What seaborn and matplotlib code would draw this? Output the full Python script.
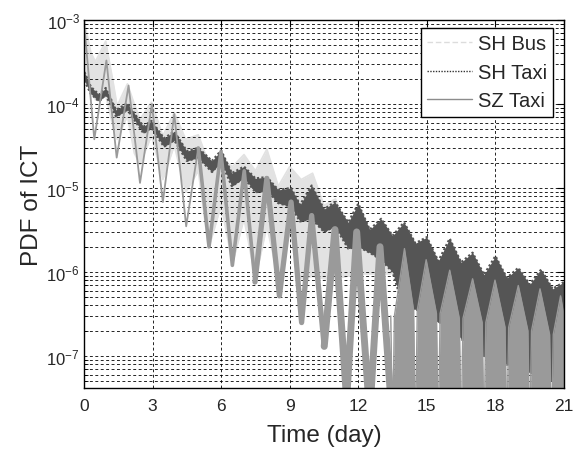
import numpy as np
import pandas as pd
import matplotlib
matplotlib.use("Agg")
import matplotlib.pyplot as plt
import seaborn as sns
from matplotlib.lines import Line2D
from matplotlib.ticker import LogLocator, NullFormatter, FixedLocator

# ---------------- data ----------------
# SZ Taxi : daily peaks / troughs (zig-zag part, days 0 - 13.5)
sz_t = [0.0, 0.45, 0.98, 1.43, 1.95, 2.45, 2.97, 3.45, 3.95, 4.47, 5.0, 5.47,
        5.99, 6.49, 7.01, 7.48, 8.0, 8.55, 9.06, 9.52, 9.96, 10.51, 10.98,
        11.49, 11.93, 12.5, 12.95, 13.5]
sz_v = [9.5e-4, 3.8e-5, 3.3e-4, 2.3e-5, 1.66e-4, 1.15e-5, 1.0e-4, 6.8e-6,
        7.6e-5, 3.5e-6, 3.0e-5, 2.0e-6, 2.7e-5, 1.2e-6, 1.6e-5, 7.6e-7,
        1.3e-5, 5.2e-7, 6.8e-6, 2.5e-7, 4.7e-6, 1.3e-7, 3.2e-6, 3.0e-8,
        3.0e-6, 2.0e-8, 2.0e-6, 1.5e-8]
# SZ Taxi : late, very noisy part (days 13.4 - 21) - daily peaks and the
# narrow empty slits between them
sz_late_t = [13.42, 13.5, 13.58, 14.02, 14.42, 14.5, 14.58, 14.97, 15.42, 15.5,
             15.58, 16.0, 16.42, 16.5, 16.58, 17.0, 17.42, 17.5, 17.58, 17.98,
             18.42, 18.5, 18.58, 19.0, 19.42, 19.5, 19.58, 19.95, 20.37, 20.45,
             20.53, 20.85, 21.0]
sz_late_v = [3.0e-7, 1.0e-8, 3.0e-7, 1.9e-6, 3.5e-7, 1.0e-8, 3.5e-7, 1.4e-6,
             3.2e-7, 1.0e-8, 3.2e-7, 1.05e-6, 2.8e-7, 1.0e-8, 2.8e-7, 8.3e-7,
             2.5e-7, 1.0e-8, 2.5e-7, 8.0e-7, 2.2e-7, 1.0e-8, 2.2e-7, 6.9e-7,
             2.0e-7, 1.0e-8, 2.0e-7, 6.3e-7, 1.8e-7, 1.0e-8, 1.8e-7, 5.2e-7,
             3.0e-7]
sz_floor = 1.0e-9

# SH Taxi : upper / lower edge of the dark noisy band
sht_t = [0.02, 0.3, 0.66, 0.95, 1.4, 1.9, 2.6, 2.95, 3.5, 3.95, 4.5, 5.0, 5.6,
         6.0, 6.47, 7.0, 7.5, 8.0, 8.5, 9.06, 9.45, 9.96, 10.5, 10.98, 11.56,
         12.0, 12.5, 13.0, 13.5, 14.0, 14.5, 15.0, 15.5, 16.0, 16.5, 17.0,
         17.5, 18.0, 18.5, 19.0, 19.5, 20.0, 20.5, 21.0]
sht_hi = [2.4e-4, 1.6e-4, 1.29e-4, 1.55e-4, 8.5e-5, 1.02e-4, 5.4e-5, 6.3e-5,
          3.9e-5, 4.7e-5, 2.75e-5, 3.0e-5, 2.1e-5, 2.8e-5, 1.5e-5, 1.8e-5,
          1.3e-5, 1.35e-5, 9.5e-6, 1.0e-5, 6.3e-6, 1.07e-5, 5.6e-6, 6.8e-6,
          3.9e-6, 6.5e-6, 3.2e-6, 4.3e-6, 2.7e-6, 3.9e-6, 2.2e-6, 2.6e-6,
          1.35e-6, 2.5e-6, 1.3e-6, 1.7e-6, 9.3e-7, 1.55e-6, 8.5e-7, 1.12e-6,
          7.1e-7, 1.07e-6, 6.3e-7, 7.6e-7]
sht_lo = [1.9e-4, 1.32e-4, 1.07e-4, 1.29e-4, 7.1e-5, 8.5e-5, 4.5e-5, 5.2e-5,
          3.1e-5, 3.7e-5, 2.1e-5, 2.3e-5, 1.55e-5, 2.05e-5, 1.05e-5, 1.32e-5,
          8.9e-6, 9.3e-6, 6.6e-6, 6.0e-6, 4.0e-6, 4.3e-6, 3.0e-6, 3.5e-6,
          1.9e-6, 2.0e-6, 1.7e-6, 1.4e-6, 1.0e-6, 3.6e-7, 3.6e-7, 3.2e-7,
          2.5e-7, 2.5e-7, 1.6e-7, 1.26e-7, 1.0e-7, 1.0e-7, 7.9e-8, 7.9e-8,
          6.3e-8, 6.3e-8, 5.0e-8, 5.0e-8]

# SH Bus : upper / lower edge of the light noisy band
shb_t = [0.0, 0.3, 0.5, 0.95, 1.3, 1.45, 1.9, 2.2, 2.45, 2.95, 3.45, 3.95,
         4.45, 5.0, 5.45, 6.0, 6.5, 7.0, 7.5, 8.0, 8.5, 9.0, 9.5, 10.0, 10.5,
         11.0, 11.5, 12.0, 12.5, 13.0, 13.4, 13.6]
shb_hi = [1.0e-3, 4.1e-4, 3.2e-4, 5.6e-4, 1.66e-4, 9.5e-5, 1.74e-4, 1.0e-4,
          6.6e-5, 1.05e-4, 4.2e-5, 7.9e-5, 3.8e-5, 4.3e-5, 2.0e-5, 2.2e-5,
          1.8e-5, 2.5e-5, 1.6e-5, 2.9e-5, 1.05e-5, 1.8e-5, 1.26e-5, 1.5e-5,
          6.2e-6, 7.4e-6, 3.5e-6, 5.1e-6, 3.0e-6, 3.5e-6, 2.5e-6, 1.5e-6]
shb_lo = [2.2e-4, 1.66e-4, 1.12e-4, 1.26e-4, 5.0e-5, 3.8e-5, 7.2e-5, 2.6e-5,
          1.9e-5, 4.2e-5, 1.26e-5, 3.2e-5, 8.9e-6, 1.6e-5, 1.9e-6, 6.2e-6,
          1.26e-6, 4.3e-6, 8.3e-7, 3.5e-6, 8.3e-7, 3.0e-6, 8.3e-7, 8.9e-7,
          8.3e-7, 8.3e-7, 8.9e-7, 9.5e-7, 9.5e-7, 9.5e-7, 9.5e-7, 1.0e-6]

series_names = ["SH Bus", "SH Taxi", "SZ Taxi"]
x_ticks = [0, 3, 6, 9, 12, 15, 18, 21]

# ---------------- style ----------------
sns.set_style("white")
plt.rcParams['font.family'] = ['Liberation Sans', 'DejaVu Sans']

c_bus = "#e2e2e2"
c_sht = "#555555"
c_sz = "#9a9a9a"

fig = plt.figure(figsize=(5.78, 4.52), dpi=100)
ax = fig.add_axes([84 / 578, 63 / 452, 480 / 578, 368 / 452])
ax.set_yscale("log")

# SH Bus (light band)
ax.fill_between(shb_t, shb_lo, shb_hi, color=c_bus, lw=0, zorder=1.0)
sns.lineplot(x=shb_t, y=shb_hi, ax=ax, color=c_bus, lw=1.2, sort=False,
             estimator=None, zorder=1.0)
sns.lineplot(x=shb_t, y=shb_lo, ax=ax, color=c_bus, lw=1.2, sort=False,
             estimator=None, zorder=1.0)

# SH Taxi (dark dotted band)
ax.fill_between(sht_t, sht_lo, sht_hi, color=c_sht, lw=0, zorder=2.0)
sns.lineplot(x=sht_t, y=sht_hi, ax=ax, color=c_sht, lw=1.6, ls=(0, (1, 1)),
             sort=False, estimator=None, zorder=2.0)
sns.lineplot(x=sht_t, y=sht_lo, ax=ax, color=c_sht, lw=1.6, ls=(0, (1, 1)),
             sort=False, estimator=None, zorder=2.0)

# SZ Taxi (zig-zag line, getting thicker/noisier with time)
width_groups = [(0.0, 4.6, 1.3), (4.6, 7.2, 2.6), (7.2, 10.2, 3.8),
                (10.2, 21.5, 5.0)]
n = len(sz_t)
for a, b, w in width_groups:
    idx = [i for i in range(n) if a <= sz_t[i] < b]
    if not idx:
        continue
    if idx[-1] + 1 < n:
        idx.append(idx[-1] + 1)
    sns.lineplot(x=[sz_t[i] for i in idx], y=[sz_v[i] for i in idx], ax=ax,
                 color=c_sz, lw=w, sort=False, estimator=None, zorder=3.0,
                 solid_joinstyle="round", solid_capstyle="round")
# late part: dense noisy tents
ax.fill_between(sz_late_t, sz_floor, sz_late_v, color=c_sz, lw=0, zorder=3.0)
sns.lineplot(x=sz_late_t, y=sz_late_v, ax=ax, color=c_sz, lw=1.0, sort=False,
             estimator=None, zorder=3.0)

# ---------------- axes ----------------
ax.set_xlim(0, 21)
ax.set_ylim(10 ** (-3 - 368 / 84), 1e-3)
ax.set_xticks(x_ticks)
ax.set_xticklabels([str(v) for v in x_ticks])
ax.yaxis.set_major_locator(FixedLocator([1e-7, 1e-6, 1e-5, 1e-4, 1e-3]))
ax.yaxis.set_minor_locator(LogLocator(base=10, subs=np.arange(2, 10), numticks=20))
ax.yaxis.set_minor_formatter(NullFormatter())

ax.set_axisbelow("line")
grid_kw = dict(color="black", lw=0.6, ls=(0, (3.5, 3.0)))
ax.grid(True, which="major", axis="x", **grid_kw)
ax.grid(True, which="both", axis="y", **grid_kw)

ax.tick_params(which="major", direction="in", top=True, right=True,
               length=5, width=0.8, color="black")
ax.tick_params(which="minor", direction="in", left=True, right=True,
               length=3, width=0.6, color="black")
ax.tick_params(axis="x", labelsize=12.5, pad=7)
ax.tick_params(axis="y", labelsize=12, pad=3)

for s in ax.spines.values():
    s.set_color("black")
    s.set_linewidth(1.0)
    s.set_zorder(5)

ax.set_xlabel("Time (day)", fontsize=17.5, labelpad=8)
ax.set_ylabel("PDF of ICT", fontsize=17.5, labelpad=2)

handles = [Line2D([], [], color="#dcdcdc", lw=1.0, ls=(0, (4, 2))),
           Line2D([], [], color="#333333", lw=1.0, ls=(0, (1, 1))),
           Line2D([], [], color="#8c8c8c", lw=1.0, ls="-")]
leg = ax.legend(handles, series_names, loc="upper right",
                bbox_to_anchor=(0.977, 0.978), borderaxespad=0,
                fontsize=14.5, handlelength=2.2, handletextpad=0.3,
                labelspacing=0.48, borderpad=0.3, fancybox=False,
                framealpha=1.0, edgecolor="black")
leg.get_frame().set_linewidth(1.0)
leg.set_zorder(10)

fig.savefig("out.png", dpi=100)
